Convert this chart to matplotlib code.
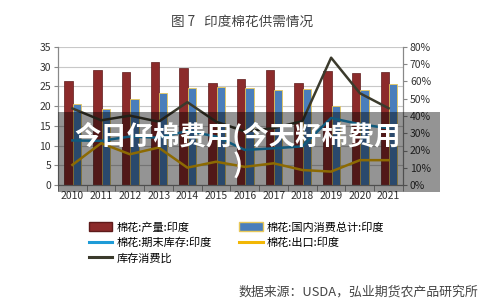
import numpy as np
import matplotlib.pyplot as plt
from matplotlib.ticker import PercentFormatter, FixedLocator
from matplotlib.patches import Rectangle, Patch
from matplotlib.lines import Line2D

plt.rcParams['font.family'] = ['Noto Sans CJK SC', 'DejaVu Sans']

# data
years = ['2010', '2011', '2012', '2013', '2014', '2015',
         '2016', '2017', '2018', '2019', '2020', '2021']
production = [26.4, 29.2, 28.6, 31.1, 29.7, 25.9, 27.0, 29.2, 25.9, 29.0, 28.3, 28.6]
consumption = [20.5, 19.4, 21.8, 23.3, 24.6, 24.8, 24.5, 24.2, 24.4, 20.1, 24.1, 25.6]
ending_stocks = [11.3, 11.2, 12.3, 12.0, 13.7, 12.3, 8.9, 9.3, 9.8, 17.0, 15.4, 14.4]
exports = [5.1, 10.6, 7.8, 9.5, 4.4, 5.9, 4.6, 5.5, 3.8, 3.4, 6.3, 6.3]
stock_use = [0.444, 0.375, 0.402, 0.367, 0.48, 0.367, 0.31, 0.33, 0.37, 0.738, 0.532, 0.445]

labels = ['棉花:产量:印度', '棉花:国内消费总计:印度', '棉花:期末库存:印度',
          '棉花:出口:印度', '库存消费比']

c_prod = '#8C2B2B'
c_cons = '#4A7EBB'
c_stock = '#1E9BD7'
c_exp = '#F2B705'
c_ratio = '#3B3A2C'
grey = '#888888'

fig = plt.figure(figsize=(5, 3.06), dpi=100)
ax = fig.add_axes([58 / 500, 1 - 185 / 306, 345 / 500, 138 / 306])
ax2 = ax.twinx()

x = np.arange(len(years))
w = 0.29
ax.bar(x - 0.13, production, w, color=c_prod, edgecolor='#5E1A1A', linewidth=0.5, zorder=2)
ax.bar(x + 0.16, consumption, w, color=c_cons, edgecolor='#E8C85A', linewidth=0.6, zorder=2)
ax.plot(x, ending_stocks, color=c_stock, lw=1.8, zorder=3)
ax.plot(x, exports, color=c_exp, lw=1.8, zorder=3)
ax2.plot(x, stock_use, color=c_ratio, lw=1.8, zorder=3)

ax.set_xlim(-0.5, len(years) - 0.5)
ax.set_ylim(0, 35)
ax.set_yticks(range(0, 36, 5))
ax2.set_ylim(0, 0.8)
ax2.set_yticks(np.arange(0, 0.81, 0.1))
ax2.yaxis.set_major_formatter(PercentFormatter(1.0, decimals=0))

ax.set_xticks(x)
ax.set_xticklabels(years)
ax.xaxis.set_minor_locator(FixedLocator(np.arange(-0.5, len(years), 1)))
ax.tick_params(axis='x', which='major', length=0, labelsize=7.5, colors='#333333', pad=4)
ax.tick_params(axis='x', which='minor', length=4, color=grey, direction='out')
ax.tick_params(axis='y', length=3, color=grey, labelsize=7.5, labelcolor='#333333', pad=2)
ax2.tick_params(axis='y', length=3, color=grey, labelsize=7.5, labelcolor='#333333', pad=2)

ax.grid(axis='y', color='#C8C8C8', lw=0.8, zorder=0)
ax.set_axisbelow(True)
for a in (ax, ax2):
    a.spines['top'].set_visible(False)
    for s in ('left', 'right', 'bottom'):
        a.spines[s].set_color(grey)
        a.spines[s].set_linewidth(0.8)

fig.text(242 / 500, 1 - 22 / 306, '图 7   印度棉花供需情况', ha='center', va='center',
         fontsize=9.8, color='#444444')

handles = [Patch(facecolor=c_prod, edgecolor='#5E1A1A'),
           Line2D([], [], color=c_stock, lw=2.2),
           Line2D([], [], color=c_ratio, lw=2.2),
           Patch(facecolor=c_cons, edgecolor='#E8C85A'),
           Line2D([], [], color=c_exp, lw=2.2)]
leg_labels = [labels[0], labels[2], labels[4], labels[1], labels[3]]
fig.legend(handles, leg_labels, ncol=2, loc='upper left',
           bbox_to_anchor=(79 / 500, 1 - 212 / 306), frameon=False,
           fontsize=8, handlelength=2.1, handleheight=0.9, handletextpad=0.36,
           columnspacing=2.5, labelspacing=0.45)

fig.text(478 / 500, 1 - 292 / 306, '数据来源：USDA，弘业期货农产品研究所',
         ha='right', va='center', fontsize=9.3, color='#444444')

# watermark band over the plot
fig.patches.append(Rectangle((58 / 500, 1 - 192 / 306), 382 / 500, 80 / 306,
                             transform=fig.transFigure, facecolor='black',
                             alpha=0.42, edgecolor='none', zorder=5))
fig.text(238 / 500, 1 - 151 / 306, '今日仔棉费用(今天籽棉费用\n)', ha='center',
         va='center', multialignment='center', fontsize=19, fontweight='bold',
         color='white', linespacing=1.1, zorder=6)

fig.savefig('out.png', dpi=100)
